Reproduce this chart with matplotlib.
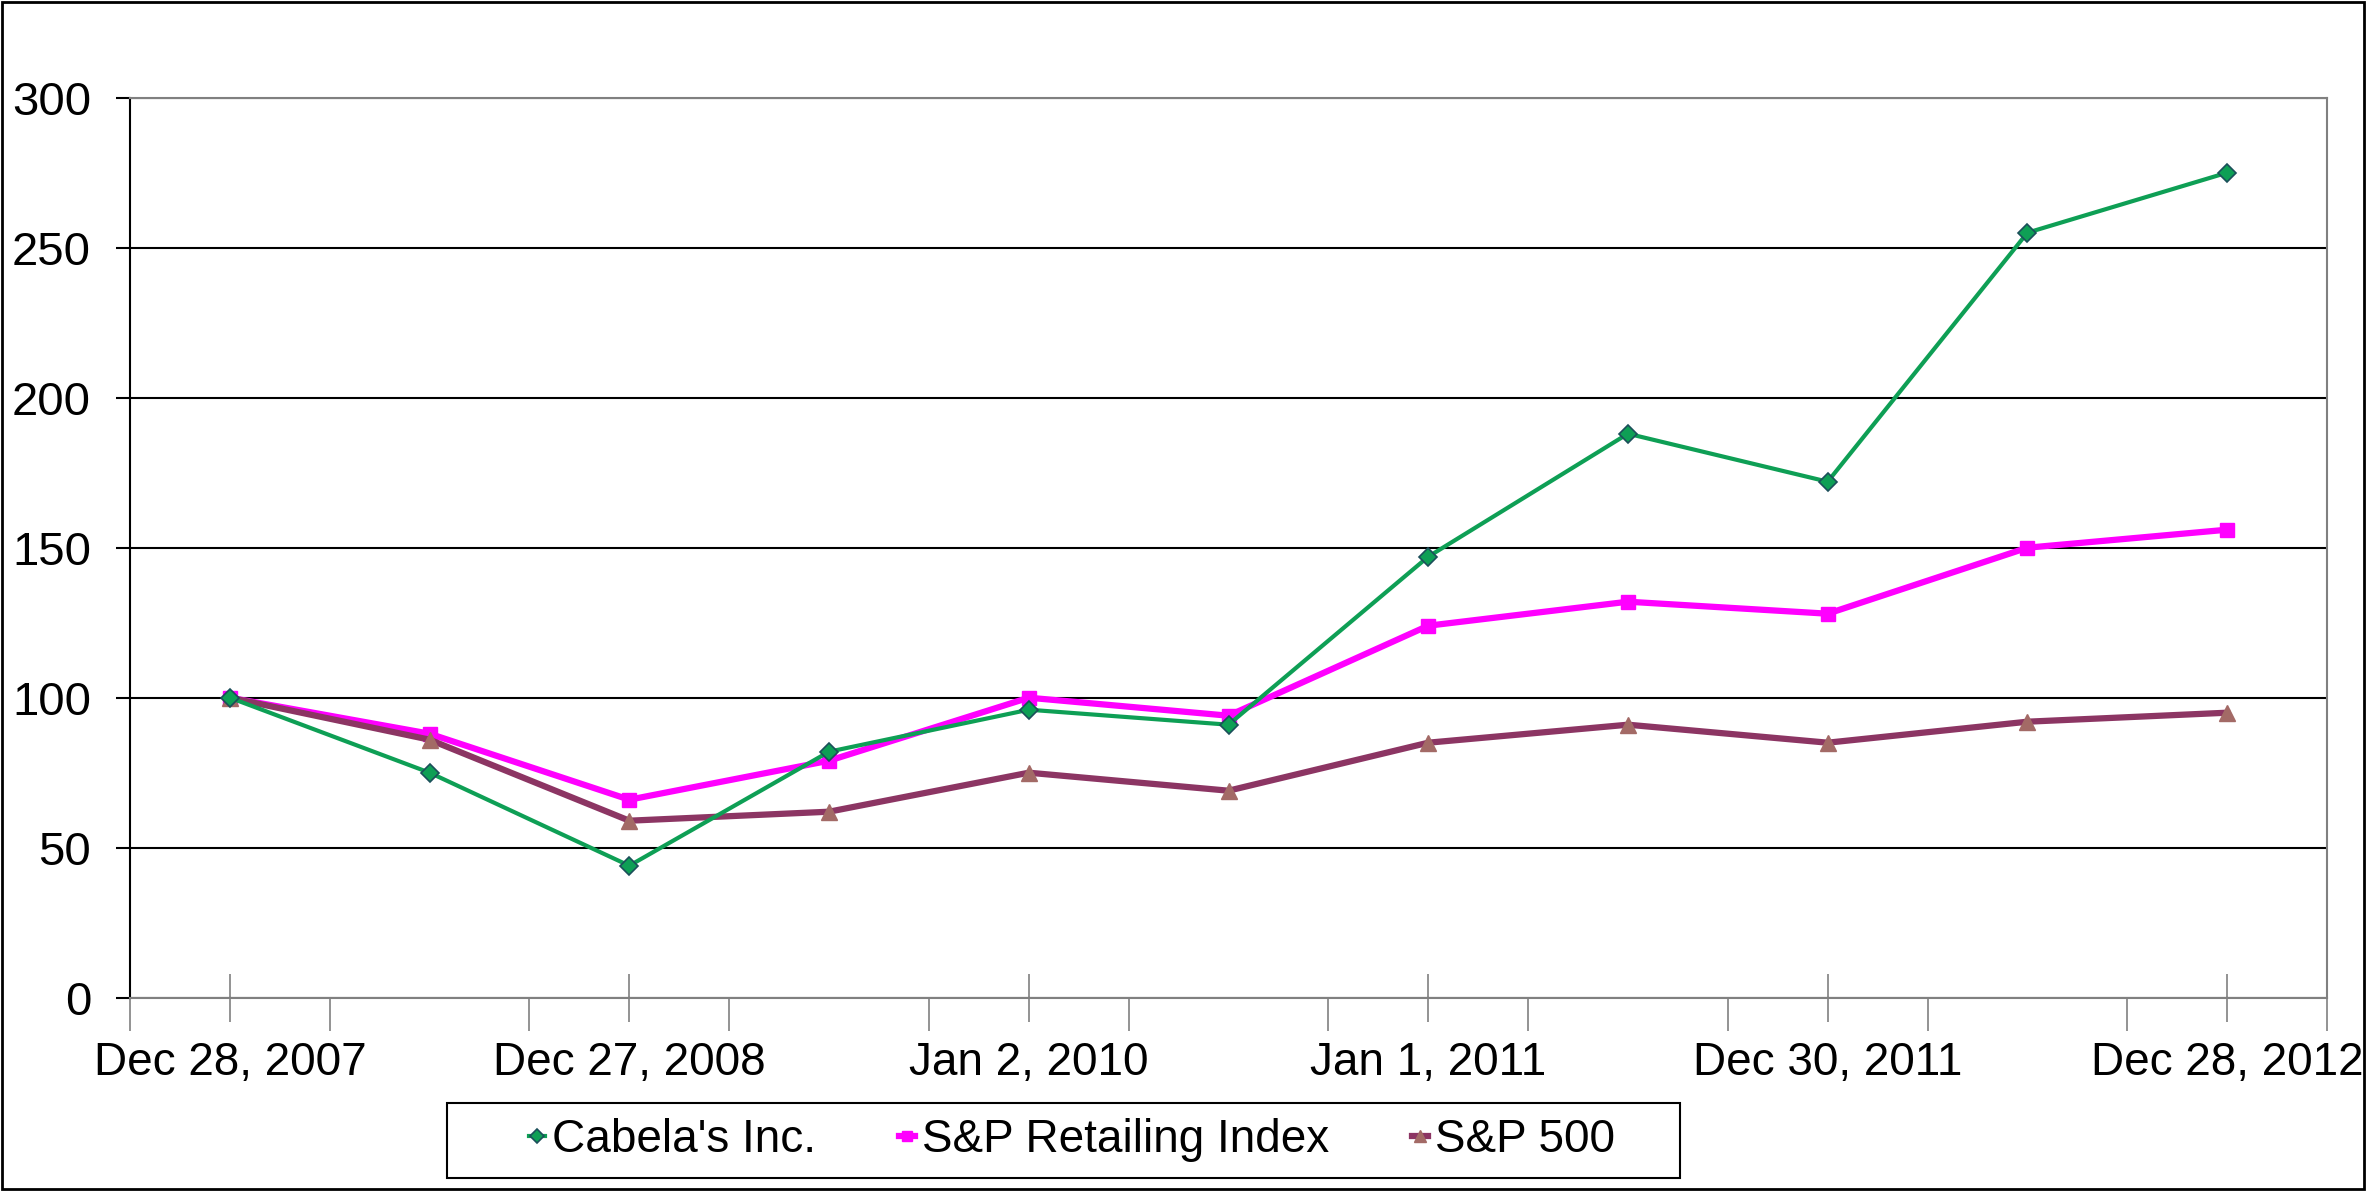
import numpy as np
import matplotlib
matplotlib.use('Agg')
from matplotlib import pyplot as plt
import matplotlib.patches as patches

# ---DATA--- #
tick_labels = ['Dec 28, 2007', 'Dec 27, 2008', 'Jan 2, 2010',
               'Jan 1, 2011', 'Dec 30, 2011', 'Dec 28, 2012']
cabelas = [100, 75, 44, 82, 96, 91, 147, 188, 172, 255, 275]
retailing = [100, 88, 66, 79, 100, 94, 124, 132, 128, 150, 156]
sp500 = [100, 86, 59, 62, 75, 69, 85, 91, 85, 92, 95]
series_names = ["Cabela's Inc.", 'S&P Retailing Index', 'S&P 500']

plt.rcParams['font.family'] = ['Liberation Sans', 'DejaVu Sans']

fig = plt.figure(figsize=(23.69, 11.91), dpi=100)
ax = fig.add_axes([130/2369, 1-997.7/1191, (2327-130)/2369, 900/1191])

x = np.arange(len(cabelas))
ax.plot(x, cabelas, color='#0E9F55', lw=3, marker='D', ms=9.5,
        mfc='#0E9F55', mec='#1B4F5A', mew=1.2, label=series_names[0], zorder=4)
ax.plot(x, retailing, color='#FF00FF', lw=4.5, marker='s', ms=10.5,
        mfc='#FF00FF', mec='#FF00FF', label=series_names[1], zorder=3)
ax.plot(x, sp500, color='#8C3563', lw=4.5, marker='^', ms=11.5,
        mfc='#A36A66', mec='#A36A66', label=series_names[2], zorder=3)

ax.set_xlim(-0.5, len(x) - 0.5)
ax.set_ylim(0, 300)
ax.set_yticks(np.arange(0, 301, 50))
ax.yaxis.grid(True, color='black', lw=1.5)
ax.set_axisbelow(True)

ax.set_xticks(x[::2])
ax.set_xticklabels(tick_labels)
ax.set_xticks(np.arange(-0.5, len(x), 1), minor=True)
ax.tick_params(axis='x', which='major', direction='inout', length=34, width=1.2,
               color='#808080', labelsize=33, pad=14)
ax.tick_params(axis='x', which='minor', direction='out', length=24, width=1.2,
               color='#808080')
ax.tick_params(axis='y', direction='out', length=10, width=1.5, color='black',
               labelsize=34, pad=18)

for s in ['top', 'right', 'bottom']:
    ax.spines[s].set_color('#808080')
    ax.spines[s].set_linewidth(1.5)
ax.spines['left'].set_color('black')
ax.spines['left'].set_linewidth(1.5)

# legend entries without frame, box drawn separately
leg = fig.legend(loc='center', bbox_to_anchor=(1072/2369, 1-1140.5/1191),
                 ncol=3, fontsize=33, frameon=False, handlelength=0.35,
                 handletextpad=0.15, columnspacing=1.8, markerscale=0.7)

fig.patches.append(patches.Rectangle((447/2369, 1-1178/1191), 1233/2369, 75/1191,
                                     transform=fig.transFigure, fill=False,
                                     edgecolor='black', lw=1.5))
fig.patches.append(patches.Rectangle((0.001, 0.002), 0.997, 0.996,
                                     transform=fig.transFigure, fill=False,
                                     edgecolor='black', lw=2))

fig.savefig('out.png', dpi=100)
